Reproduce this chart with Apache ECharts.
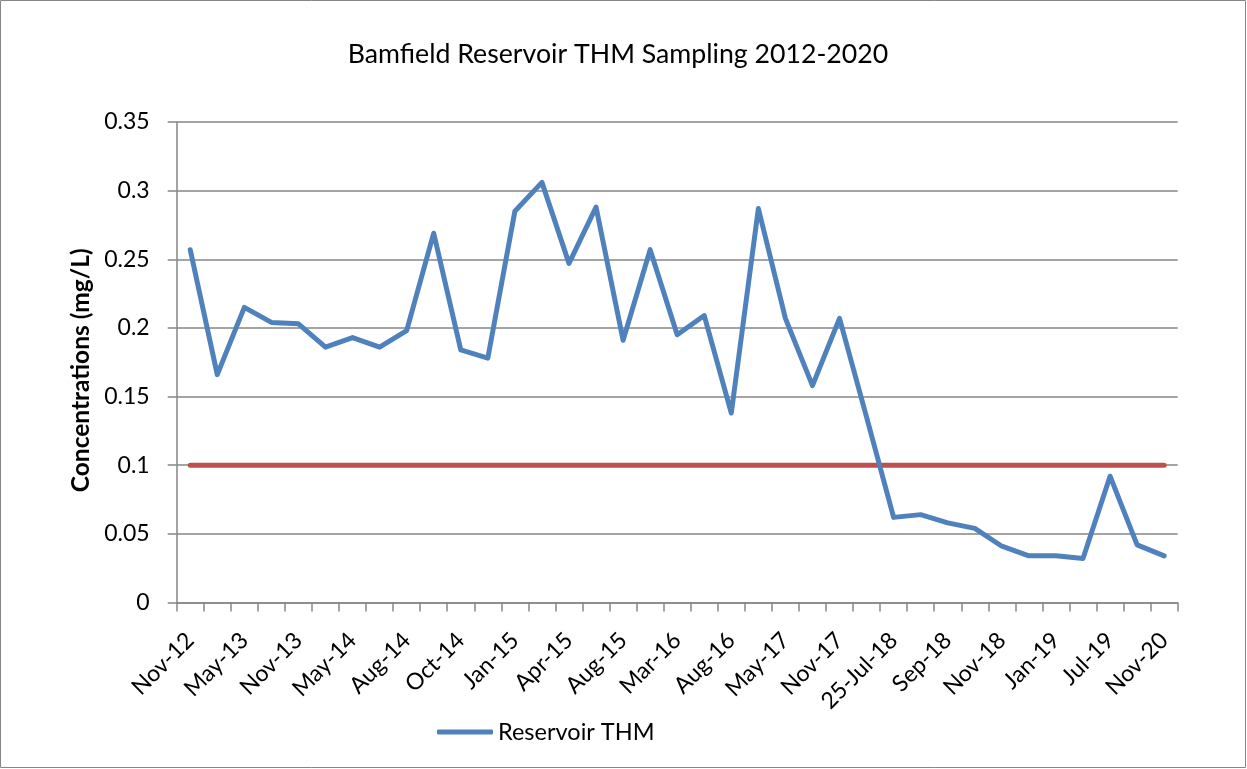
<!DOCTYPE html>
<html>
<head>
<meta charset="utf-8">
<script src="https://cdn.jsdelivr.net/npm/echarts@6/dist/echarts.min.js"></script>
<style>
html,body{margin:0;padding:0;background:#fff;}
#chart{width:1247px;height:769px;}
</style>
</head>
<body>
<div id="chart"></div>
<script>
// Sampling dates (only every other one is labelled on the axis)
const categories = [
  'Nov-12','Feb-13','May-13','Aug-13','Nov-13','Feb-14','May-14','Jul-14',
  'Aug-14','Sep-14','Oct-14','Nov-14','Jan-15','Feb-15','Apr-15','May-15',
  'Aug-15','Nov-15','Mar-16','May-16','Aug-16','Nov-16','May-17','Aug-17',
  'Nov-17','Feb-18','25-Jul-18','Aug-18','Sep-18','Oct-18','Nov-18','Dec-18',
  'Jan-19','Apr-19','Jul-19','Nov-19','Nov-20'
];
// Reservoir THM concentrations (mg/L)
const reservoirTHM = [
  0.257,0.166,0.215,0.204,0.203,0.186,0.193,0.186,
  0.198,0.269,0.184,0.178,0.285,0.306,0.247,0.288,
  0.191,0.257,0.195,0.209,0.138,0.287,0.207,0.158,
  0.207,0.135,0.062,0.064,0.058,0.054,0.041,0.034,
  0.034,0.032,0.092,0.042,0.034
];
// Guideline limit (mg/L)
const guideline = [
  0.1,0.1,0.1,0.1,0.1,0.1,0.1,0.1,0.1,0.1,0.1,0.1,0.1,0.1,0.1,0.1,0.1,0.1,0.1,
  0.1,0.1,0.1,0.1,0.1,0.1,0.1,0.1,0.1,0.1,0.1,0.1,0.1,0.1,0.1,0.1,0.1,0.1
];
const yTickLabels = ['0','0.05','0.1','0.15','0.2','0.25','0.3','0.35'];

const FONT = 'Lato';
const chart = echarts.init(document.getElementById('chart'), null, {renderer:'canvas'});
chart.setOption({
  animation:false,
  backgroundColor:'#ffffff',
  title:{
    text:'Bamfield Reservoir THM Sampling 2012-2020',
    left:613, textAlign:'center', top:36,
    textStyle:{fontFamily:FONT,fontSize:26.7,fontWeight:'normal',color:'#000'}
  },
  graphic:[{
    type:'rect', silent:true, z:-1,
    shape:{x:0.5,y:0.5,width:1245,height:767},
    style:{fill:null,stroke:'#868686',lineWidth:1}
  }],
  legend:{
    data:['Reservoir THM'],
    left:432, top:715,
    icon:'roundRect', itemWidth:56, itemHeight:5, itemGap:10,
    textStyle:{fontFamily:FONT,fontSize:23.5,color:'#000',padding:[0,0,0,0]}
  },
  grid:{left:176.7, right:69.3, top:122, bottom:166.5, containLabel:false},
  xAxis:{
    type:'category',
    data:categories,
    boundaryGap:true,
    axisLine:{lineStyle:{color:'#868686',width:1.5}},
    axisTick:{show:true,interval:0,length:9,lineStyle:{color:'#868686',width:1.5}},
    axisLabel:{interval:1,rotate:45,margin:34,fontFamily:FONT,fontSize:23,color:'#000'},
    splitLine:{show:false}
  },
  yAxis:{
    type:'value',
    min:0, max:0.35, interval:0.05,
    name:'Concentrations (mg/L)',
    nameLocation:'middle', nameGap:75,
    nameTextStyle:{fontFamily:FONT,fontSize:24.5,fontWeight:'bold',color:'#000',padding:[0,0,0,-16]},
    axisLine:{show:true,lineStyle:{color:'#868686',width:1.5}},
    axisTick:{show:true,length:9,lineStyle:{color:'#868686',width:1.5}},
    axisLabel:{
      margin:27,fontFamily:FONT,fontSize:23,color:'#000',
      formatter:function(v){return yTickLabels[Math.round(v/0.05)];}
    },
    splitLine:{show:true,lineStyle:{color:'#868686',width:1.5}}
  },
  series:[
    {
      name:'Reservoir THM', type:'line', data:reservoirTHM,
      showSymbol:false, symbol:'none', z:3,
      itemStyle:{color:'#4F81BD'},
      lineStyle:{color:'#4F81BD',width:5,cap:'round',join:'round'}
    },
    {
      name:'Guideline', type:'line', data:guideline,
      showSymbol:false, symbol:'none', z:2,
      itemStyle:{color:'#C0504D'},
      lineStyle:{color:'#C0504D',width:5,cap:'round',join:'round'}
    }
  ]
});
</script>
</body>
</html>
